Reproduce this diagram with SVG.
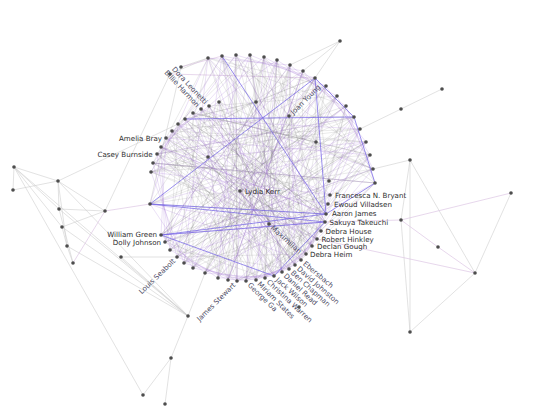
<svg xmlns="http://www.w3.org/2000/svg" width="550" height="417" viewBox="0 0 550 417">
<style>
.g path{stroke:#777;stroke-opacity:.3;stroke-width:.5;fill:none}
.p path{stroke:#a06fd2;stroke-opacity:.42;stroke-width:.5;fill:none}
.b path{stroke:#7262e6;stroke-opacity:.8;stroke-width:.9;fill:none}
.o path{stroke:#cfcfcf;stroke-width:.6;fill:none}
.op path{stroke:#dcc6e4;stroke-width:.7;fill:none}
circle{fill:#4d4d4d}
text{font-family:"DejaVu Sans","Liberation Sans",sans-serif;font-size:7.1px;fill:#2e2e2e}
.r{fill:#4e4e66}
</style>
<rect width="550" height="417" fill="#fff"/>
<g id="connectors">
<g class="o">
<path d="M340 41L290 65"/><path d="M340 41L303 71"/><path d="M340 41L315 78"/>
<path d="M360 129L401 109"/><path d="M401 109L442 89"/>
<path d="M410 160L410 332"/><path d="M410 160L401 220"/><path d="M410 160L475 273"/><path d="M401 220L410 332"/><path d="M475 273L410 332"/><path d="M511 193L475 273"/><path d="M410 160L373 169"/>
<path d="M14 167L13 190"/><path d="M13 190L58 181"/><path d="M14 167L58 181"/><path d="M58 181L178 124"/>
<path d="M14 167L143 395"/><path d="M14 167L188 316"/><path d="M14 167L59 209"/><path d="M14 167L62 227"/>
<path d="M58 181L59 209"/><path d="M58 181L67 246"/><path d="M58 181L105 211"/><path d="M59 209L105 211"/><path d="M62 227L105 211"/><path d="M59 209L73 263"/><path d="M62 227L67 246"/><path d="M67 246L73 263"/>
<path d="M58 181L188 316"/><path d="M59 209L188 316"/><path d="M62 227L188 316"/><path d="M67 246L188 316"/>
<path d="M121 257L177 257"/><path d="M121 257L188 316"/>
<path d="M188 316L171 358"/><path d="M171 358L143 395"/><path d="M171 358L165 404"/><path d="M188 316L205 273"/>
<path d="M170 74L105 211"/><path d="M181 67L150 204"/><path d="M181 67L208 58"/><path d="M170 74L208 58"/>
</g>
<g class="op">
<path d="M401 220L511 193"/><path d="M401 220L438 247"/><path d="M438 247L475 273"/><path d="M317 239L475 273"/><path d="M325 222L401 220"/>
<path d="M73 263L105 211"/><path d="M105 211L150 204"/><path d="M181 67L222 56"/><path d="M170 74L315 78"/>
</g>
<g class="g">
<path d="M208 58L326 86"/><path d="M222 56L370 155"/><path d="M236 55L325 222"/><path d="M250 55L295 265"/><path d="M264 57L373 169"/><path d="M277 60L321 231"/><path d="M290 65L289 269"/><path d="M303 71L375 183"/><path d="M315 78L317 239"/><path d="M326 86L282 272"/><path d="M337 96L228 280"/><path d="M346 106L312 246"/><path d="M354 117L274 276"/><path d="M360 129L218 278"/><path d="M366 142L306 254"/><path d="M370 155L265 278"/><path d="M373 169L205 273"/><path d="M375 183L301 260"/><path d="M330 195L256 280"/><path d="M328 204L193 268"/><path d="M326 214L150 204"/><path d="M325 222L246 281"/><path d="M321 231L184 263"/><path d="M317 239L151 172"/><path d="M312 246L237 281"/><path d="M306 254L177 257"/><path d="M301 260L153 163"/><path d="M295 265L185 119"/><path d="M289 269L170 250"/><path d="M282 272L157 154"/><path d="M274 276L193 113"/><path d="M265 278L165 242"/><path d="M256 280L161 147"/><path d="M246 281L201 109"/><path d="M237 281L161 235"/><path d="M228 280L166 138"/><path d="M218 278L209 106"/><path d="M205 273L264 57"/><path d="M193 268L172 131"/><path d="M184 263L219 102"/><path d="M177 257L277 60"/><path d="M170 250L178 124"/><path d="M165 242L208 58"/><path d="M161 235L290 65"/><path d="M150 204L354 117"/><path d="M151 172L222 56"/><path d="M153 163L303 71"/><path d="M157 154L360 129"/><path d="M161 147L236 55"/><path d="M166 138L315 78"/><path d="M172 131L366 142"/><path d="M178 124L250 55"/><path d="M185 119L326 86"/><path d="M193 113L370 155"/><path d="M201 109L325 222"/><path d="M209 106L337 96"/><path d="M219 102L373 169"/>
<path d="M208 58L346 106"/><path d="M222 56L317 239"/><path d="M236 55L228 280"/><path d="M250 55L312 246"/><path d="M264 57L218 278"/><path d="M277 60L306 254"/><path d="M290 65L205 273"/><path d="M303 71L301 260"/><path d="M315 78L193 268"/><path d="M326 86L295 265"/><path d="M337 96L184 263"/><path d="M346 106L289 269"/><path d="M354 117L177 257"/><path d="M360 129L282 272"/><path d="M366 142L170 250"/><path d="M370 155L274 276"/><path d="M373 169L165 242"/><path d="M375 183L265 278"/><path d="M330 195L161 235"/><path d="M328 204L256 280"/><path d="M321 231L151 172"/><path d="M317 239L237 281"/><path d="M312 246L153 163"/><path d="M306 254L222 56"/><path d="M301 260L157 154"/><path d="M295 265L236 55"/><path d="M289 269L161 147"/><path d="M282 272L250 55"/><path d="M274 276L166 138"/><path d="M265 278L264 57"/><path d="M256 280L172 131"/><path d="M246 281L277 60"/><path d="M237 281L178 124"/><path d="M228 280L290 65"/><path d="M218 278L185 119"/><path d="M205 273L303 71"/><path d="M193 268L193 113"/><path d="M184 263L315 78"/><path d="M177 257L201 109"/><path d="M170 250L326 86"/><path d="M165 242L209 106"/><path d="M161 235L337 96"/><path d="M150 204L219 102"/><path d="M151 172L346 106"/><path d="M153 163L208 58"/><path d="M157 154L354 117"/><path d="M161 147L312 246"/><path d="M166 138L360 129"/><path d="M172 131L306 254"/><path d="M178 124L366 142"/><path d="M185 119L301 260"/><path d="M193 113L370 155"/><path d="M201 109L295 265"/><path d="M209 106L373 169"/><path d="M219 102L289 269"/>
<path d="M208 58L312 246"/><path d="M222 56L282 272"/><path d="M236 55L237 281"/><path d="M250 55L274 276"/><path d="M264 57L228 280"/><path d="M277 60L265 278"/><path d="M290 65L218 278"/><path d="M303 71L256 280"/><path d="M315 78L205 273"/><path d="M326 86L246 281"/><path d="M337 96L193 268"/><path d="M346 106L161 235"/><path d="M354 117L184 263"/><path d="M360 129L150 204"/><path d="M366 142L177 257"/><path d="M370 155L151 172"/><path d="M373 169L170 250"/><path d="M375 183L153 163"/><path d="M330 195L165 242"/><path d="M328 204L157 154"/><path d="M326 214L185 119"/><path d="M325 222L161 147"/><path d="M321 231L193 113"/><path d="M317 239L166 138"/><path d="M312 246L201 109"/><path d="M306 254L172 131"/><path d="M301 260L209 106"/><path d="M295 265L178 124"/><path d="M289 269L219 102"/><path d="M282 272L264 57"/><path d="M274 276L208 58"/><path d="M265 278L277 60"/><path d="M256 280L222 56"/><path d="M246 281L290 65"/><path d="M237 281L236 55"/><path d="M228 280L303 71"/><path d="M218 278L250 55"/><path d="M205 273L315 78"/><path d="M193 268L360 129"/><path d="M184 263L326 86"/><path d="M177 257L366 142"/><path d="M170 250L337 96"/><path d="M165 242L370 155"/><path d="M161 235L346 106"/><path d="M150 204L373 169"/><path d="M151 172L354 117"/><path d="M153 163L375 183"/><path d="M157 154L321 231"/><path d="M161 147L330 195"/><path d="M166 138L317 239"/><path d="M172 131L328 204"/><path d="M178 124L312 246"/><path d="M185 119L326 214"/><path d="M193 113L306 254"/><path d="M201 109L325 222"/><path d="M209 106L301 260"/><path d="M219 102L265 278"/>
<path d="M256 102L208 58"/><path d="M256 102L250 55"/><path d="M256 102L315 78"/><path d="M256 102L375 183"/><path d="M256 102L306 254"/><path d="M256 102L246 281"/><path d="M256 102L177 257"/><path d="M256 102L157 154"/><path d="M256 102L185 119"/>
<path d="M289 116L236 55"/><path d="M289 116L290 65"/><path d="M289 116L354 117"/><path d="M289 116L326 214"/><path d="M289 116L289 269"/><path d="M289 116L218 278"/><path d="M289 116L150 204"/><path d="M289 116L172 131"/>
<path d="M316 142L264 57"/><path d="M316 142L337 96"/><path d="M316 142L373 169"/><path d="M316 142L321 231"/><path d="M316 142L265 278"/><path d="M316 142L193 268"/><path d="M316 142L151 172"/><path d="M316 142L193 113"/>
<path d="M329 181L250 55"/><path d="M329 181L315 78"/><path d="M329 181L346 106"/><path d="M329 181L370 155"/><path d="M329 181L301 260"/><path d="M329 181L205 273"/><path d="M329 181L153 163"/><path d="M329 181L201 109"/>
</g>
<g class="p">
<path d="M208 58L290 65"/><path d="M222 56L303 71"/><path d="M236 55L315 78"/><path d="M250 55L326 86"/><path d="M264 57L337 96"/><path d="M277 60L346 106"/><path d="M290 65L354 117"/><path d="M303 71L360 129"/><path d="M315 78L366 142"/><path d="M326 86L370 155"/><path d="M337 96L373 169"/><path d="M346 106L375 183"/><path d="M354 117L330 195"/><path d="M360 129L328 204"/><path d="M366 142L326 214"/><path d="M370 155L325 222"/><path d="M373 169L321 231"/><path d="M375 183L317 239"/><path d="M330 195L312 246"/><path d="M328 204L306 254"/><path d="M326 214L301 260"/><path d="M325 222L295 265"/><path d="M321 231L289 269"/><path d="M317 239L282 272"/><path d="M312 246L274 276"/><path d="M306 254L265 278"/><path d="M301 260L256 280"/><path d="M295 265L246 281"/><path d="M289 269L237 281"/><path d="M282 272L228 280"/><path d="M274 276L218 278"/><path d="M265 278L205 273"/><path d="M256 280L193 268"/><path d="M246 281L184 263"/><path d="M237 281L177 257"/><path d="M228 280L170 250"/><path d="M218 278L165 242"/><path d="M205 273L161 235"/><path d="M193 268L150 204"/><path d="M184 263L151 172"/><path d="M177 257L153 163"/><path d="M170 250L157 154"/><path d="M165 242L161 147"/><path d="M161 235L166 138"/><path d="M150 204L172 131"/><path d="M151 172L178 124"/><path d="M153 163L185 119"/><path d="M157 154L193 113"/><path d="M161 147L201 109"/><path d="M166 138L209 106"/><path d="M172 131L219 102"/><path d="M178 124L208 58"/><path d="M185 119L222 56"/><path d="M193 113L236 55"/><path d="M201 109L250 55"/><path d="M209 106L264 57"/><path d="M219 102L277 60"/>
<path d="M208 58L330 195"/><path d="M222 56L301 260"/><path d="M236 55L325 222"/><path d="M250 55L282 272"/><path d="M264 57L312 246"/><path d="M277 60L256 280"/><path d="M290 65L295 265"/><path d="M303 71L228 280"/><path d="M315 78L274 276"/><path d="M326 86L193 268"/><path d="M337 96L246 281"/><path d="M346 106L170 250"/><path d="M354 117L218 278"/><path d="M360 129L265 278"/><path d="M366 142L184 263"/><path d="M370 155L237 281"/><path d="M373 169L165 242"/><path d="M375 183L205 273"/><path d="M330 195L151 172"/><path d="M328 204L177 257"/><path d="M326 214L161 147"/><path d="M325 222L161 235"/><path d="M321 231L178 124"/><path d="M317 239L153 163"/><path d="M312 246L201 109"/><path d="M306 254L166 138"/><path d="M301 260L150 204"/><path d="M295 265L185 119"/><path d="M289 269L157 154"/><path d="M282 272L209 106"/><path d="M274 276L172 131"/><path d="M265 278L222 56"/><path d="M256 280L193 113"/><path d="M246 281L264 57"/><path d="M237 281L219 102"/><path d="M228 280L303 71"/><path d="M218 278L236 55"/><path d="M205 273L337 96"/><path d="M193 268L277 60"/><path d="M184 263L208 58"/><path d="M177 257L315 78"/><path d="M170 250L250 55"/><path d="M165 242L346 106"/><path d="M161 235L290 65"/><path d="M150 204L366 142"/><path d="M151 172L326 86"/><path d="M153 163L375 183"/><path d="M157 154L354 117"/><path d="M161 147L326 214"/><path d="M166 138L370 155"/><path d="M172 131L317 239"/><path d="M178 124L330 195"/><path d="M185 119L360 129"/><path d="M193 113L325 222"/><path d="M201 109L373 169"/><path d="M209 106L312 246"/><path d="M219 102L328 204"/>
<path d="M208 157L222 56"/><path d="M208 157L303 71"/><path d="M208 157L366 142"/><path d="M208 157L312 246"/><path d="M208 157L274 276"/><path d="M208 157L228 280"/><path d="M208 157L165 242"/><path d="M208 157L166 138"/>
<path d="M240 191L277 60"/><path d="M240 191L326 86"/><path d="M240 191L360 129"/><path d="M240 191L328 204"/><path d="M240 191L295 265"/><path d="M240 191L237 281"/><path d="M240 191L161 235"/><path d="M240 191L161 147"/><path d="M240 191L269 224"/>
<path d="M269 224L208 58"/><path d="M269 224L290 65"/><path d="M269 224L366 142"/><path d="M269 224L325 222"/><path d="M269 224L282 272"/><path d="M269 224L184 263"/><path d="M269 224L150 204"/><path d="M269 224L178 124"/>
</g>
<g class="b">
<path d="M222 56L326 214"/><path d="M315 78L326 214"/><path d="M315 78L150 204"/><path d="M150 204L326 214"/><path d="M150 204L325 222"/><path d="M161 235L326 214"/><path d="M161 235L325 222"/><path d="M185 119L354 117"/><path d="M315 78L354 117L375 183L326 214"/><path d="M161 235L274 276L325 222"/>
</g>
</g>
<g id="nodes">
<g id="n0"><circle cx="208" cy="58" r="1.8"/></g>
<g id="n1"><circle cx="222" cy="56" r="1.8"/></g>
<g id="n2"><circle cx="236" cy="55" r="1.8"/></g>
<g id="n3"><circle cx="250" cy="55" r="1.8"/></g>
<g id="n4"><circle cx="264" cy="57" r="1.8"/></g>
<g id="n5"><circle cx="277" cy="60" r="1.8"/></g>
<g id="n6"><circle cx="290" cy="65" r="1.8"/></g>
<g id="n7"><circle cx="303" cy="71" r="1.8"/></g>
<g id="n8"><circle cx="315" cy="78" r="1.8"/></g>
<g id="n9"><circle cx="326" cy="86" r="1.8"/></g>
<g id="n10"><circle cx="337" cy="96" r="1.8"/></g>
<g id="n11"><circle cx="346" cy="106" r="1.8"/></g>
<g id="n12"><circle cx="354" cy="117" r="1.8"/></g>
<g id="n13"><circle cx="360" cy="129" r="1.8"/></g>
<g id="n14"><circle cx="366" cy="142" r="1.8"/></g>
<g id="n15"><circle cx="370" cy="155" r="1.8"/></g>
<g id="n16"><circle cx="373" cy="169" r="1.8"/></g>
<g id="n17"><circle cx="375" cy="183" r="1.8"/></g>
<g id="francesca"><circle cx="330" cy="195" r="1.8"/><text x="335" y="197.5">Francesca N. Bryant</text></g>
<g id="ewoud"><circle cx="328" cy="204" r="1.8"/><text x="334" y="207">Ewoud Villadsen</text></g>
<g id="aaron"><circle cx="326" cy="214" r="1.8"/><text x="332" y="216.3">Aaron James</text></g>
<g id="sakuya"><circle cx="325" cy="222" r="1.8"/><text x="329.5" y="224.7">Sakuya Takeuchi</text></g>
<g id="debrahouse"><circle cx="321" cy="231" r="1.8"/><text x="325.5" y="233.6">Debra House</text></g>
<g id="robert"><circle cx="317" cy="239" r="1.8"/><text x="321.5" y="241.6">Robert Hinkley</text></g>
<g id="declan"><circle cx="312" cy="246" r="1.8"/><text x="317" y="249.1">Declan Gough</text></g>
<g id="debraheim"><circle cx="306" cy="254" r="1.8"/><text x="310" y="256.6">Debra Heim</text></g>
<g id="ebersbach" transform="translate(301,260)"><circle r="1.8"/><text class="r" transform="rotate(40)" x="4" y="2.5">Ebersbach</text></g>
<g id="david" transform="translate(295,265)"><circle r="1.8"/><text class="r" transform="rotate(41)" x="4" y="2.5">David Johnston</text></g>
<g id="ben" transform="translate(289,269)"><circle r="1.8"/><text class="r" transform="rotate(42)" x="4" y="2.5">Ben Chapman</text></g>
<g id="daniel" transform="translate(282,272)"><circle r="1.8"/><text class="r" transform="rotate(43)" x="4" y="2.5">Daniel Read</text></g>
<g id="jack" transform="translate(274,276)"><circle r="1.8"/><text class="r" transform="rotate(42)" x="4" y="2.5">Jack Wilson</text></g>
<g id="christina" transform="translate(265,278)"><circle r="1.8"/><text class="r" transform="rotate(43)" x="4" y="2.5">Christina Warren</text></g>
<g id="miriam" transform="translate(256,280)"><circle r="1.8"/><text class="r" transform="rotate(45)" x="4" y="2.5">Miriam States</text></g>
<g id="george" transform="translate(246,281)"><circle r="1.8"/><text class="r" transform="rotate(44)" x="4" y="2.5">George Ga</text></g>
<g id="james" transform="translate(237,281)"><circle r="1.8"/><text class="r" transform="rotate(-45)" x="-4" y="2.5" text-anchor="end">James Stewart</text></g>
<g id="n35"><circle cx="228" cy="280" r="1.8"/></g>
<g id="n36"><circle cx="218" cy="278" r="1.8"/></g>
<g id="n37"><circle cx="205" cy="273" r="1.8"/></g>
<g id="n38"><circle cx="193" cy="268" r="1.8"/></g>
<g id="n39"><circle cx="184" cy="263" r="1.8"/></g>
<g id="louis" transform="translate(177,257)"><circle r="1.8"/><text class="r" transform="rotate(-44)" x="-4" y="2.5" text-anchor="end">Louis Seabolt</text></g>
<g id="n41"><circle cx="170" cy="250" r="1.8"/></g>
<g id="dolly"><circle cx="165" cy="242" r="1.8"/><text x="161" y="245.3" text-anchor="end">Dolly Johnson</text></g>
<g id="william"><circle cx="161" cy="235" r="1.8"/><text x="157" y="237" text-anchor="end">William Green</text></g>
<g id="n44"><circle cx="150" cy="204" r="1.8"/></g>
<g id="n45"><circle cx="151" cy="172" r="1.8"/></g>
<g id="n46"><circle cx="153" cy="163" r="1.8"/></g>
<g id="casey"><circle cx="157" cy="154" r="1.8"/><text x="152.5" y="156.6" text-anchor="end">Casey Burnside</text></g>
<g id="n48"><circle cx="161" cy="147" r="1.8"/></g>
<g id="amelia"><circle cx="166" cy="138" r="1.8"/><text x="162" y="140.6" text-anchor="end">Amelia Bray</text></g>
<g id="n50"><circle cx="172" cy="131" r="1.8"/></g>
<g id="n51"><circle cx="178" cy="124" r="1.8"/></g>
<g id="n52"><circle cx="185" cy="119" r="1.8"/></g>
<g id="n53"><circle cx="193" cy="113" r="1.8"/></g>
<g id="billie" transform="translate(201,109)"><circle r="1.8"/><text class="r" transform="rotate(47)" x="-4" y="2.5" text-anchor="end">Billie Harmon</text></g>
<g id="dora" transform="translate(209,106)"><circle r="1.8"/><text class="r" transform="rotate(47)" x="-4" y="2.5" text-anchor="end">Dora Leonetti</text></g>
<g id="n56"><circle cx="219" cy="102" r="1.8"/></g>
<g id="i1"><circle cx="256" cy="102" r="1.8"/></g>
<g id="joan" transform="translate(289,116)"><circle r="1.8"/><text class="r" transform="rotate(-45)" x="4" y="2.5">Joan Young</text></g>
<g id="i3"><circle cx="316" cy="142" r="1.8"/></g>
<g id="i4"><circle cx="208" cy="157" r="1.8"/></g>
<g id="lydia"><circle cx="240" cy="191" r="1.8"/><text x="245" y="193.6">Lydia Kerr</text></g>
<g id="i6"><circle cx="329" cy="181" r="1.8"/></g>
<g id="maximilian" transform="translate(269,224)"><circle r="1.8"/><text class="r" transform="rotate(42)" x="4" y="2.5">Maximilian</text></g>
<g id="o1"><circle cx="181" cy="67" r="1.8"/></g>
<g id="o2"><circle cx="170" cy="74" r="1.8"/></g>
<g id="o3"><circle cx="340" cy="41" r="1.8"/></g>
<g id="o4"><circle cx="401" cy="109" r="1.8"/></g>
<g id="o5"><circle cx="442" cy="89" r="1.8"/></g>
<g id="o6"><circle cx="410" cy="160" r="1.8"/></g>
<g id="o7"><circle cx="511" cy="193" r="1.8"/></g>
<g id="o8"><circle cx="401" cy="220" r="1.8"/></g>
<g id="o9"><circle cx="438" cy="247" r="1.8"/></g>
<g id="o10"><circle cx="475" cy="273" r="1.8"/></g>
<g id="o11"><circle cx="410" cy="332" r="1.8"/></g>
<g id="o12"><circle cx="14" cy="167" r="1.8"/></g>
<g id="o13"><circle cx="13" cy="190" r="1.8"/></g>
<g id="o14"><circle cx="58" cy="181" r="1.8"/></g>
<g id="o15"><circle cx="59" cy="209" r="1.8"/></g>
<g id="o16"><circle cx="62" cy="227" r="1.8"/></g>
<g id="o17"><circle cx="67" cy="246" r="1.8"/></g>
<g id="o18"><circle cx="73" cy="263" r="1.8"/></g>
<g id="o19"><circle cx="105" cy="211" r="1.8"/></g>
<g id="o20"><circle cx="121" cy="257" r="1.8"/></g>
<g id="o21"><circle cx="188" cy="316" r="1.8"/></g>
<g id="o22"><circle cx="171" cy="358" r="1.8"/></g>
<g id="o23"><circle cx="143" cy="395" r="1.8"/></g>
<g id="o24"><circle cx="165" cy="404" r="1.8"/></g>
<g id="o25"><circle cx="299" cy="307" r="1.8"/></g>
</g>
</svg>
